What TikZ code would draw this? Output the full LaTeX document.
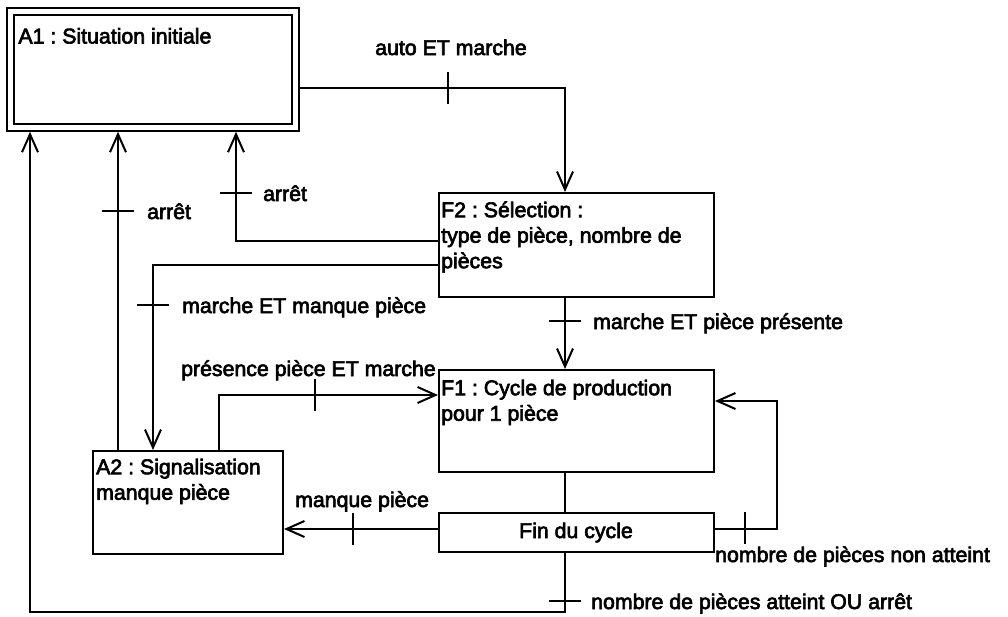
\documentclass[tikz,border=0pt]{standalone}
\usepackage{fontspec}
\setmainfont{Liberation Sans}
\newfontfamily\labfont{Liberation Sans}[FakeBold=3]
\usetikzlibrary{arrows.meta}
\newcommand\lab{\labfont\fontsize{21.3}{25.5}\selectfont\frenchspacing}
\newcommand\tb{\rule{0pt}{16pt}}
\tikzset{
  ln/.style={line width=2pt, line join=miter},
  arr/.style={ln, -{Straight Barb[length=18pt,width=16pt,line width=2pt]}},
  box/.style={draw, line width=2pt, inner sep=0pt},
  boxtext/.style={anchor=north west, inner sep=0pt, align=left, font=\lab},
  lbl/.style={anchor=base west, inner sep=0pt, font=\lab},
}
\newcommand\tickV[1]{\draw[ln] ([yshift=16pt]#1) -- ([yshift=-16pt]#1);}
\newcommand\tickH[1]{\draw[ln] ([xshift=-16pt]#1) -- ([xshift=16pt]#1);}
\begin{document}
\begin{tikzpicture}[x=1pt,y=-1pt]
\useasboundingbox (0,0) rectangle (1008,616);
% boxes
\node[draw, line width=2pt, double, double distance=4.5pt, inner sep=0pt, outer sep=4.25pt,
      minimum width=285pt, minimum height=116pt] (A1) at (153,69.5) {};
\node[boxtext] at ([shift={(12,20)}]A1.north west) {\tb A1 : Situation initiale};
\node[box, minimum width=275pt, minimum height=104pt] (F2) at (576.5,245) {};
\node[boxtext] at ([shift={(3,9)}]F2.north west) {\tb F2 : Sélection :\\type de pièce, nombre de\\pièces};
\node[box, minimum width=275pt, minimum height=102pt] (F1) at (576.5,421) {};
\node[boxtext] at ([shift={(3,10)}]F1.north west) {\tb F1 : Cycle de production\\pour 1 pièce};
\node[box, minimum width=275pt, minimum height=39pt] (Fin) at (576.5,532.5) {};
\node[anchor=base, inner sep=0pt, font=\lab] at (576,538) {Fin du cycle};
\node[box, minimum width=190pt, minimum height=103pt] (A2) at (188,502.5) {};
\node[boxtext] at ([shift={(4,8)}]A2.north west) {\tb A2 : Signalisation\\manque pièce};
% reference lines
\coordinate (sp) at (565,0);
\coordinate (yAuto) at (0,88);
\coordinate (yArF2) at (0,241);
\coordinate (yMq) at (0,265);
\coordinate (yPres) at (0,395);
\coordinate (yLoop) at (0,401);
\coordinate (yFin) at (0,529);
\coordinate (yBot) at (0,612);
\coordinate (xL) at (30,0);
\coordinate (xArA2) at (118,0);
\coordinate (xMq) at (153,0);
\coordinate (xPres) at (219,0);
\coordinate (xArF2) at (236,0);
\coordinate (xLoop) at (777,0);
% connectors
\draw[arr] (A1.east |- yAuto) -- (sp |- yAuto) -- (F2.north -| sp);
\draw[arr] (F2.south -| sp) -- (F1.north -| sp);
\draw[ln] (F1.south -| sp) -- (Fin.north -| sp);
\draw[arr] (Fin.east |- yFin) -- (xLoop |- yFin) -- (xLoop |- yLoop) -- (F1.east |- yLoop);
\draw[arr] (Fin.west |- yFin) -- (A2.east |- yFin);
\draw[arr] (Fin.south -| sp) -- (sp |- yBot) -- (xL |- yBot) -- (A1.south -| xL);
\draw[arr] (A2.north -| xArA2) -- (A1.south -| xArA2);
\draw[arr] (F2.west |- yArF2) -- (xArF2 |- yArF2) -- (A1.south -| xArF2);
\draw[arr] (F2.west |- yMq) -- (xMq |- yMq) -- (A2.north -| xMq);
\draw[arr] (A2.north -| xPres) -- (xPres |- yPres) -- (F1.west |- yPres);
% ticks
\coordinate (t1) at (448,88);   \tickV{t1}
\coordinate (t2) at (565,321);  \tickH{t2}
\coordinate (t3) at (745,528);  \tickV{t3}
\coordinate (t4) at (353,529);  \tickV{t4}
\coordinate (t5) at (565,601);  \tickH{t5}
\coordinate (t6) at (118,211);  \tickH{t6}
\coordinate (t7) at (236,193);  \tickH{t7}
\coordinate (t8) at (153,305);  \tickH{t8}
\coordinate (t9) at (315,395);  \tickV{t9}
% labels
\node[anchor=base, inner sep=0pt, font=\lab] (lAuto) at (451,55) {auto ET marche};
\node[lbl] (lAr1) at (263,201) {arrêt};
\node[lbl] (lAr2) at (147,219) {arrêt};
\node[lbl] (lMq) at (182,313) {marche ET manque pièce};
\node[lbl] (lPr) at (593,329) {marche ET pièce présente};
\node[lbl] (lPres) at (181,376) {présence pièce ET marche};
\node[lbl] (lManque) at (295,507) {manque pièce};
\node[lbl] (lNon) at (715,562) {nombre de pièces non atteint};
\node[lbl] (lAtt) at (591,609) {nombre de pièces atteint OU arrêt};
\end{tikzpicture}
\end{document}
